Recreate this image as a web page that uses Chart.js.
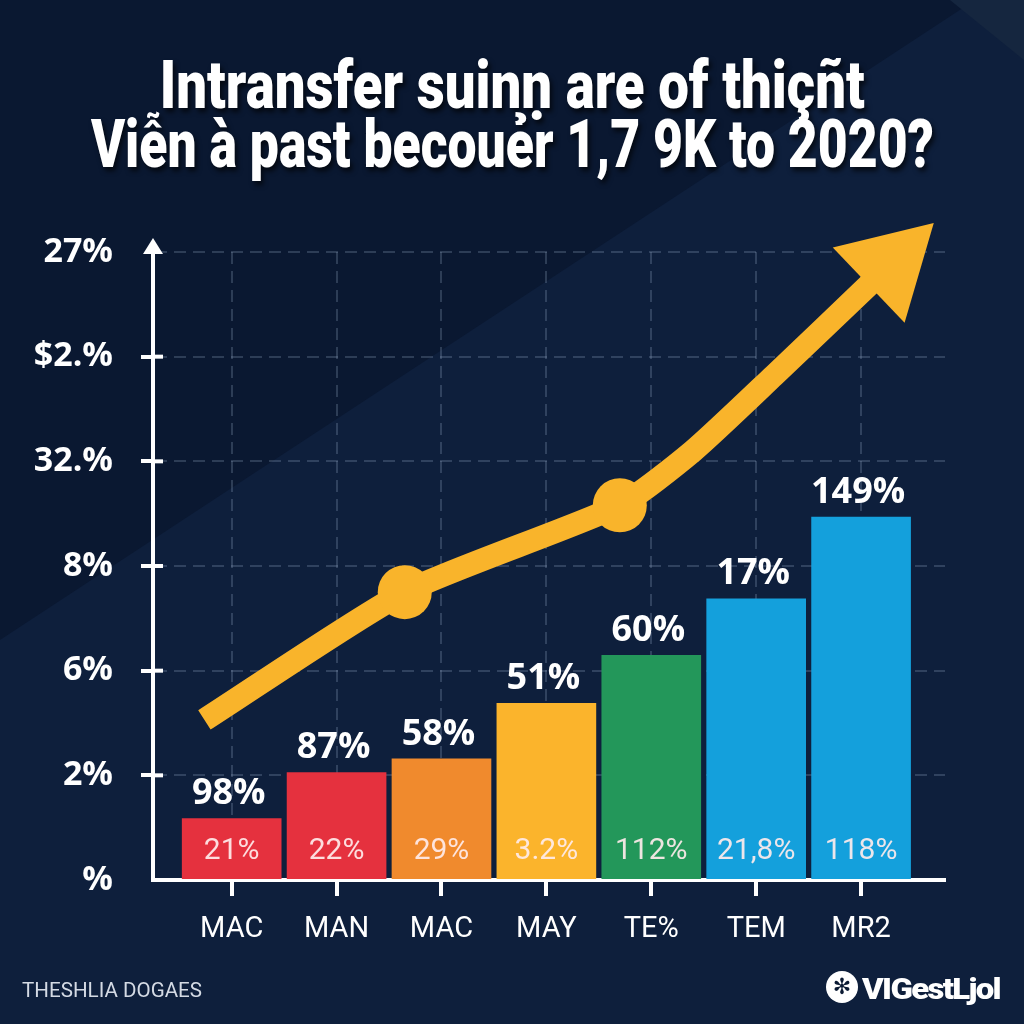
<!DOCTYPE html>
<html><head><meta charset="utf-8">
<script src="https://cdn.jsdelivr.net/npm/chart.js@4"></script>
<style>
html,body{margin:0;padding:0;background:#0b1a33;}
#wrap{position:relative;width:1024px;height:1024px;overflow:hidden;}
canvas{position:absolute;left:0;top:0;}
.t{position:absolute;left:-500px;width:2024px;text-align:center;color:#fff;font-family:Roboto,"DejaVu Sans",sans-serif;font-weight:900;font-size:66px;line-height:66px;white-space:nowrap;text-shadow:3px 4px 6px rgba(0,0,0,0.65);}
.t span{display:inline-block;transform-origin:50% 50%;}
#foot1{position:absolute;left:22px;top:980px;font-family:Roboto,sans-serif;font-size:20px;line-height:20px;color:#d4dae4;white-space:nowrap;transform-origin:0 0;}
#logo{position:absolute;left:826px;top:971px;width:32px;height:32px;border-radius:50%;background:#fff;color:#0b1a33;font-family:"DejaVu Sans";font-size:22px;line-height:32px;text-align:center;}
#foot2{position:absolute;left:862px;top:974px;font-family:Roboto,sans-serif;font-weight:900;font-size:30px;line-height:30px;letter-spacing:-1.5px;color:#fff;white-space:nowrap;transform-origin:0 0;}
</style></head>
<body><div id="wrap"><canvas id="c" width="1024" height="1024"></canvas>
<div class="t" id="t1" style="top:53px"><span>Intransfer suinṇ are of thiçñt</span></div>
<div class="t" id="t2" style="top:112px"><span>Viễn à past becouẻr 1,7 9K to 2020?</span></div>
<div id="foot1">THESHLIA DOGAES</div>
<div id="logo">✻</div>
<div id="foot2">VIGestLjol</div>
</div>
<script>
// ---- data ----
const categories = ['MAC','MAN','MAC','MAY','TE%','TEM','MR2'];
const barValues = [0.59, 1.03, 1.16, 1.69, 2.15, 2.69, 3.47];
const topLabels = ['98%','87%','58%','51%','60%','17%','149%'];
const innerLabels = ['21%','22%','29%','3.2%','112%','21,8%','118%'];
const yTickLabels = ['%','2%','6%','8%','32.%','$2.%','27%'];
const trendX = [-0.26, 1.65, 3.70, 4.40, 5.17, 6.10];
const trendY = [1.53, 2.75, 3.58, 4.10, 4.82, 5.71];
const markerIdx = [1, 2];

const barColors = ['#e5313e','#e5313e','#f08a2d','#fbb42c','#23975a','#14a0dc','#14a0dc'];
const YELLOW = '#f9b42b';
const GRID = 'rgba(150,170,200,0.25)';
const NARROW = 'Roboto, "DejaVu Sans", sans-serif';

function fit(sel, w){
  const s=document.querySelector(sel);
  const cur=s.getBoundingClientRect().width;
  s.style.transform='scaleX('+(w/cur)+')';
}
fit('#t1 span',705); fit('#t2 span',843); fit('#foot1',180); fit('#foot2',138);

const bgPlugin = {
  id:'bg',
  beforeDraw(chart){
    const c=chart.ctx;
    c.save();
    c.fillStyle='#0a1831'; c.fillRect(0,0,1024,1024);
    c.fillStyle='#0e1f3c';
    c.beginPath(); c.moveTo(975,0); c.lineTo(1024,0); c.lineTo(1024,1024); c.lineTo(0,1024); c.lineTo(0,640); c.closePath(); c.fill();
    c.fillStyle='#15263f';
    c.beginPath(); c.moveTo(950,0); c.lineTo(1024,0); c.lineTo(1024,60); c.closePath(); c.fill();
    c.restore();
  }
};

const decoPlugin = {
  id:'deco',
  afterDraw(chart){
    const c=chart.ctx, a=chart.chartArea;
    c.save();
    c.fillStyle='#fff'; c.strokeStyle='#fff'; c.lineWidth=4;
    c.beginPath(); c.moveTo(a.left,a.top+2); c.lineTo(a.left,a.top-4); c.stroke();
    c.beginPath(); c.moveTo(a.left,a.top-14); c.lineTo(a.left-10,a.top+2); c.lineTo(a.left+10,a.top+2); c.closePath(); c.fill();
    chart.scales.y.ticks.forEach(t=>{
      if(t.value===0||t.value===6) return;
      const y=chart.scales.y.getPixelForValue(t.value);
      c.beginPath(); c.moveTo(a.left,y); c.lineTo(a.left+10,y); c.stroke();
    });
    c.restore();
  },
  afterDatasetsDraw(chart){
    const c=chart.ctx;
    c.save();
    const pts=chart.getDatasetMeta(0).data;
    const p=pts[pts.length-1], q=pts[pts.length-2];
    let dx=p.x-q.x, dy=p.y-q.y; const L=Math.hypot(dx,dy); dx/=L; dy/=L;
    const px=-dy, py=dx;
    c.fillStyle=YELLOW;
    c.beginPath();
    c.moveTo(p.x+dx*86,p.y+dy*86);
    c.lineTo(p.x-dx*4+px*52,p.y-dy*4+py*52);
    c.lineTo(p.x-dx*4-px*52,p.y-dy*4-py*52);
    c.closePath(); c.fill();
    const bars=chart.getDatasetMeta(1).data;
    bars.forEach((b,i)=>{
      c.fillStyle='#fff';
      c.font='bold 36px "Open Sans"';
      c.textAlign='center'; c.textBaseline='alphabetic';
      c.fillText(topLabels[i], b.x-3, b.y-14);
      c.font='30px '+NARROW;
      c.fillStyle='rgba(255,236,236,0.92)';
      c.textBaseline='middle';
      c.fillText(innerLabels[i], b.x, b.base-28);
    });
    c.restore();
  }
};

new Chart(document.getElementById('c'), {
  type:'bar',
  data:{
    datasets:[
      {
        type:'line',
        data: trendX.map((x,i)=>({x:x, y:trendY[i]})),
        borderColor:YELLOW, borderWidth:23, tension:0.2,
        borderCapStyle:'butt', borderJoinStyle:'round',
        pointRadius: ctx => markerIdx.includes(ctx.dataIndex) ? 27 : 0,
        pointHoverRadius:0,
        pointBackgroundColor:YELLOW, pointBorderWidth:0,
        order:0, clip:false
      },
      {
        type:'bar',
        data: barValues.map((v,i)=>({x:i, y:v})),
        backgroundColor: barColors,
        barPercentage:0.95, categoryPercentage:1,
        order:1
      }
    ]
  },
  options:{
    responsive:false, animation:false,
    layout:{padding:{top:252,right:79,left:0,bottom:0}},
    plugins:{legend:{display:false}, tooltip:{enabled:false}},
    scales:{
      x:{
        type:'linear', min:-0.75, max:6.8, offset:false,
        afterBuildTicks: s => { s.ticks = categories.map((_,i)=>({value:i})); },
        afterFit: s => { s.height = 144; },
        ticks:{callback:v=>categories[v], color:'#fff', font:{family:NARROW, size:29}, padding:16, autoSkip:false, maxRotation:0},
        grid:{offset:false, color:GRID, lineWidth:2, tickColor:'#fff', tickWidth:4, tickLength:16},
        border:{display:true, color:'#fff', width:4, dash:[12,7]}
      },
      y:{
        min:0, max:6,
        afterFit: s => { s.width = 153; },
        ticks:{stepSize:1, callback:v=>yTickLabels[v], color:'#fff', font:{family:'Open Sans', weight:'bold', size:34}, padding:28},
        grid:{color:GRID, lineWidth:2, tickColor: ctx => (ctx.tick && (ctx.tick.value===0||ctx.tick.value===6)) ? 'rgba(0,0,0,0)' : '#fff', tickWidth:4, tickLength:12},
        border:{display:true, color:'#fff', width:4, dash:[12,7]}
      }
    }
  },
  plugins:[bgPlugin, decoPlugin]
});
</script>
</body></html>
